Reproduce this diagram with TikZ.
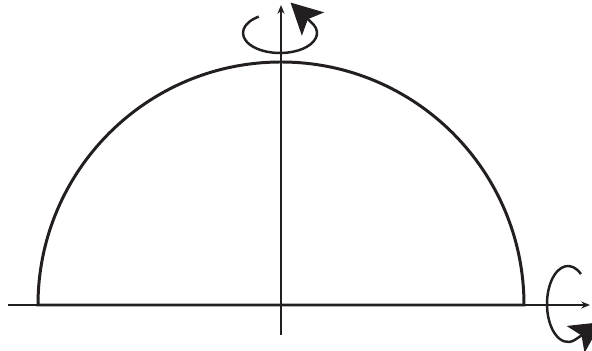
\documentclass[tikz,border=0pt]{standalone}
\usetikzlibrary{arrows.meta}
\definecolor{ink}{HTML}{231F20}
\begin{document}
\begin{tikzpicture}[
        x=0.02cm, y=0.02cm,
        axis/.style={draw=ink, line width=0.85pt, -{Stealth[length=5pt, width=4pt]}},
        spin/.style={draw=ink, line width=1.4pt, -{Stealth[length=6.2mm, width=6.4mm, inset=1.4mm]}},
        dome/.style={draw=ink, line width=1.7pt, line join=miter}
    ]
        \useasboundingbox (0,0) rectangle (592,351);
        \clip (0,0) rectangle (592,351);
        \coordinate (O) at (281,46);

        % half disk
        \draw[dome] (O) ++(-243,0) arc[start angle=180, end angle=0, radius=243] -- cycle;

        % axes
        \draw[axis] (281,16) -- (281,346);
        \draw[axis] (8,46) -- (590,46);

        % rotations
        \draw[spin] (280,318) ++(125:37 and 20) arc[start angle=125, end angle=385, x radius=37, y radius=20] -- ++(-23,22);
        \draw[spin] (568,47) ++(52:21 and 38) arc[start angle=52, end angle=288, x radius=21, y radius=38] -- ++(27,18);
    \end{tikzpicture}
\end{document}
